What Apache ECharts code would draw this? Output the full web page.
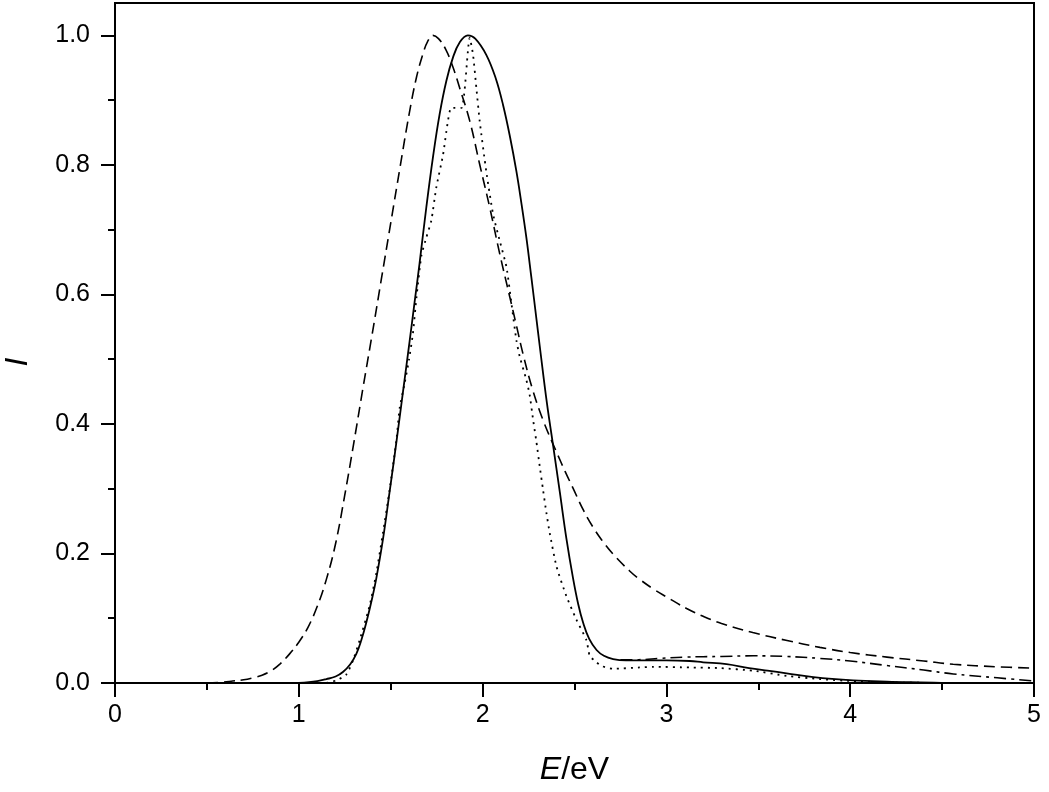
<!DOCTYPE html>
<html>
<head>
<meta charset="utf-8">
<script src="https://cdn.jsdelivr.net/npm/echarts@6/dist/echarts.min.js"></script>
<style>
html,body{margin:0;padding:0;background:#fff;}
#chart{width:1049px;height:792px;}
</style>
</head>
<body>
<div id="chart"></div>
<script>
// Tick labels
const xTicks = [0, 1, 2, 3, 4, 5];
const xMinorTicks = [0.5, 1.5, 2.5, 3.5, 4.5];
const yTicks = [0, 0.2, 0.4, 0.6, 0.8, 1.0];
const yMinorTicks = [0.1, 0.3, 0.5, 0.7, 0.9];

// Solid curve
const solid = [
  [1.00,0.000],[1.10,0.003],[1.15,0.006],[1.20,0.010],[1.24,0.017],[1.28,0.029],
  [1.313,0.045],[1.34,0.066],[1.367,0.093],[1.40,0.132],[1.422,0.162],[1.458,0.222],
  [1.494,0.295],[1.531,0.372],[1.567,0.450],[1.603,0.528],[1.63,0.588],[1.657,0.648],
  [1.694,0.735],[1.73,0.812],[1.766,0.878],[1.803,0.930],[1.839,0.966],[1.875,0.989],
  [1.92,1.000],[1.96,0.995],[2.02,0.970],[2.07,0.935],[2.111,0.893],[2.15,0.842],
  [2.184,0.790],[2.21,0.743],[2.238,0.688],[2.265,0.627],[2.293,0.562],[2.311,0.520],
  [2.35,0.432],[2.383,0.368],[2.42,0.295],[2.456,0.223],[2.492,0.162],[2.52,0.122],
  [2.547,0.093],[2.58,0.068],[2.62,0.051],[2.66,0.042],[2.71,0.037],[2.78,0.035],
  [2.855,0.035],[3.0,0.035],[3.127,0.034],[3.2,0.032],[3.327,0.029],[3.45,0.023],
  [3.55,0.019],[3.654,0.015],[3.8,0.009],[4.016,0.004],[4.2,0.002],[4.38,0.001],
  [4.6,0.000],[5.0,0.000]
];

// Dashed curve
const dashed = [
  [0.50,0.000],[0.57,0.001],[0.64,0.003],[0.70,0.005],[0.75,0.008],[0.80,0.012],
  [0.85,0.019],[0.90,0.030],[0.95,0.045],[1.00,0.063],[1.05,0.086],[1.10,0.118],
  [1.15,0.160],[1.20,0.215],[1.25,0.290],[1.30,0.372],[1.35,0.457],[1.40,0.540],
  [1.45,0.625],[1.50,0.710],[1.55,0.795],[1.60,0.878],[1.64,0.935],[1.676,0.972],
  [1.70,0.990],[1.73,1.000],[1.76,0.995],[1.80,0.978],[1.84,0.950],[1.875,0.919],
  [1.93,0.868],[1.984,0.801],[2.039,0.734],[2.093,0.663],[2.148,0.596],[2.184,0.552],
  [2.22,0.508],[2.27,0.455],[2.33,0.405],[2.40,0.358],[2.45,0.326],[2.49,0.302],
  [2.55,0.266],[2.60,0.241],[2.65,0.220],[2.71,0.199],[2.80,0.173],[2.855,0.160],
  [2.93,0.145],[3.0,0.133],[3.11,0.115],[3.2,0.103],[3.3,0.092],[3.47,0.078],
  [3.65,0.066],[3.835,0.055],[4.0,0.047],[4.2,0.040],[4.4,0.034],[4.56,0.029],
  [4.8,0.025],[5.0,0.023]
];

// Dotted curve
const dotted = [
  [1.15,0.000],[1.204,0.004],[1.258,0.013],[1.295,0.035],[1.331,0.066],[1.385,0.119],
  [1.422,0.170],[1.458,0.232],[1.494,0.298],[1.531,0.375],[1.549,0.425],[1.576,0.463],
  [1.60,0.500],[1.621,0.540],[1.64,0.595],[1.667,0.660],[1.694,0.688],[1.721,0.714],
  [1.748,0.765],[1.785,0.816],[1.81,0.865],[1.83,0.888],[1.885,0.888],[1.93,0.996],
  [1.948,0.970],[1.966,0.919],[1.984,0.868],[2.02,0.790],[2.057,0.724],[2.093,0.683],
  [2.13,0.642],[2.157,0.586],[2.184,0.529],[2.202,0.504],[2.238,0.468],[2.256,0.445],
  [2.275,0.406],[2.293,0.372],[2.311,0.334],[2.329,0.298],[2.347,0.263],[2.365,0.232],
  [2.402,0.180],[2.456,0.134],[2.51,0.098],[2.565,0.066],[2.583,0.042],[2.62,0.032],
  [2.65,0.026],[2.71,0.022],[2.855,0.024],[2.93,0.025],[3.127,0.024],[3.29,0.023],
  [3.472,0.019],[3.654,0.011],[3.835,0.006],[4.016,0.003],[4.2,0.001],[4.5,0.000]
];

// Dash-dot curve
const dashDot = [
  [2.75,0.036],[2.85,0.036],[2.964,0.038],[3.1,0.040],[3.3,0.041],[3.472,0.042],
  [3.65,0.041],[3.835,0.038],[4.0,0.034],[4.198,0.027],[4.4,0.020],[4.561,0.014],
  [4.8,0.008],[5.0,0.003]
];

const FONT = 'Liberation Sans, Arial, Helvetica, sans-serif';
const chart = echarts.init(document.getElementById('chart'), null, {renderer: 'canvas'});

const baseLine = {show: true, lineStyle: {color: '#000', width: 2}};

chart.setOption({
  animation: false,
  backgroundColor: '#fff',
  grid: {left: 115, right: 15, top: 3, bottom: 109, show: true, borderColor: '#000', borderWidth: 2,
    backgroundColor: 'transparent', outerBoundsMode: 'none', containLabel: false},
  xAxis: [{
    type: 'value', min: 0, max: 5, interval: 1,
    axisLine: baseLine,
    axisTick: {show: true, inside: false, length: 14, lineStyle: {color: '#000', width: 2}, customValues: xTicks},
    axisLabel: {show: true, margin: 20, color: '#000', fontSize: 25, fontFamily: FONT, customValues: xTicks, formatter: v => String(v)},
    splitLine: {show: false},
    name: '{i|E}/eV', nameLocation: 'middle', nameGap: 71,
    nameTextStyle: {color: '#000', fontSize: 32, fontFamily: FONT, rich: {i: {fontStyle: 'italic', fontSize: 32, fontFamily: FONT, color: '#000'}}}
  }, {
    type: 'value', min: 0, max: 5, position: 'bottom',
    axisLine: {show: false},
    axisTick: {show: true, length: 7, lineStyle: {color: '#000', width: 2}, customValues: xMinorTicks},
    axisLabel: {show: false},
    splitLine: {show: false}
  }],
  yAxis: [{
    type: 'value', min: 0, max: 1.05,
    axisLine: baseLine,
    axisTick: {show: true, inside: false, length: 14, lineStyle: {color: '#000', width: 2}, customValues: yTicks},
    axisLabel: {show: true, margin: 25, color: '#000', fontSize: 25, fontFamily: FONT, customValues: yTicks, formatter: v => v.toFixed(1)},
    splitLine: {show: false}
  }, {
    type: 'value', min: 0, max: 1.05, position: 'left',
    axisLine: {show: false},
    axisTick: {show: true, length: 7, lineStyle: {color: '#000', width: 2}, customValues: yMinorTicks},
    axisLabel: {show: false},
    splitLine: {show: false}
  }],
  graphic: [{
    type: 'text', x: 18, y: 362, rotation: Math.PI / 2,
    style: {text: 'I', fill: '#000', font: 'italic 32px ' + FONT, align: 'center', verticalAlign: 'middle'}
  }],
  series: [
    {type: 'line', data: dashed, showSymbol: false, smooth: 0.4, clip: true,
      lineStyle: {color: '#000', width: 1.6, type: [11, 6]}},
    {type: 'line', data: dotted, showSymbol: false, smooth: 0.2, clip: true,
      lineStyle: {color: '#000', width: 1.8, type: [2, 5]}},
    {type: 'line', data: dashDot, showSymbol: false, smooth: 0.4, clip: true,
      lineStyle: {color: '#000', width: 1.6, type: [12, 5, 3, 5]}},
    {type: 'line', data: solid, showSymbol: false, smooth: 0.4, clip: true,
      lineStyle: {color: '#000', width: 1.8, type: 'solid'}}
  ]
});
</script>
</body>
</html>
